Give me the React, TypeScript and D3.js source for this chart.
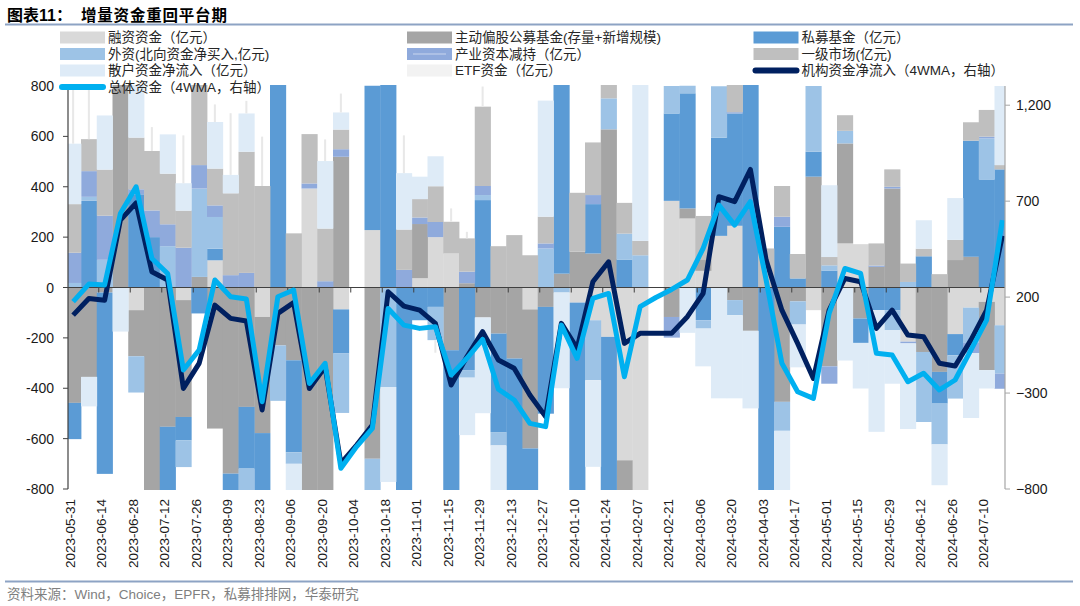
import React from 'react';
import * as d3 from 'd3';

const dates = [
  '2023-05-31','2023-06-07','2023-06-14','2023-06-21','2023-06-28','2023-07-05','2023-07-12','2023-07-19','2023-07-26','2023-08-02',
  '2023-08-09','2023-08-16','2023-08-23','2023-08-30','2023-09-06','2023-09-13','2023-09-20','2023-09-27','2023-10-04','2023-10-11',
  '2023-10-18','2023-10-25','2023-11-01','2023-11-08','2023-11-15','2023-11-22','2023-11-29','2023-12-06','2023-12-13','2023-12-20',
  '2023-12-27','2024-01-03','2024-01-10','2024-01-17','2024-01-24','2024-01-31','2024-02-07','2024-02-14','2024-02-21','2024-02-28',
  '2024-03-06','2024-03-13','2024-03-20','2024-03-27','2024-04-03','2024-04-10','2024-04-17','2024-04-24','2024-05-01','2024-05-08',
  '2024-05-15','2024-05-22','2024-05-29','2024-06-05','2024-06-12','2024-06-19','2024-06-26','2024-07-03','2024-07-10','2024-07-17',
];

// 融资资金
const rongzi = [0,0,0,0,-90,0,0,-50,0,108, 0,0,-117,0,0,393,0,-87,0,228, 0,0,37,200,135,0,0,0,0,-87, 0,0,-60,-130,-196,-686,-830,0,344,274, 66,205,245,0,0,0,0,-90,0,175, 172,0,0,-215,0,0,-185,-80,-57,-150];
// 主动偏股公募基金
const zhudong = [-458,-355,-20,900,-183,-810,-553,-464,42,-560, -739,-474,-461,-230,-289,-810,-810,519,0,-680, 0,0,215,0,-249,17,-119,-183,-282,-552, -77,55,142,135,628,-126,0,0,-117,40, 46,0,-50,-172,0,-454,-55,440,-313,397, -123,82,393,0,-256,-335,109,122,-271,0];
// 私募基金
const simu = [-144,344,-720,0,370,200,-260,-93,-103,46, -70,-245,-234,850,-365,0,0,-175,0,573, 850,-810,-130,-77,-562,-328,347,-391,-523,-166, -424,760,-750,196,-616,111,0,0,347,457, -130,390,446,850,-810,241,36,99,66,0, -97,-90,-90,0,124,-126,-84,461,429,469];
// 外资
const waizi = [18,16,110,0,-144,0,164,-106,351,126, 0,-90,0,-220,-46,0,0,-236,0,-130, -395,0,0,-132,0,-30,20,-53,0,0, 155,-20,0,-238,123,103,128,0,109,30, -33,204,-60,0,0,-115,-92,261,22,50, 0,0,-80,22,-278,-162,-172,-140,163,-192];
// 产业资本减持
const chanye = [120,102,175,0,20,106,87,158,93,46, 49,58,0,0,0,20,25,30,0,0, 0,70,26,60,0,46,36,0,0,0, 20,0,0,36,0,0,0,0,-82,0, 0,0,5,0,0,40,0,0,-69,0, 0,5,7,-7,0,0,0,-40,7,-60];
// 一级市场
const yiji = [193,127,183,0,205,236,201,147,360,146, 325,481,403,0,215,196,209,78,0,0, 0,160,73,142,126,132,315,164,208,128, 106,0,234,209,60,122,57,0,0,0, 172,0,110,0,155,122,97,0,33,62, 0,88,69,73,30,53,80,73,106,17];
// 散户资金净流入
const sanhu = [240,-117,215,-175,250,0,156,109,0,185, 73,152,0,0,-106,0,268,68,0,0, -377,224,89,119,0,-228,-380,-185,0,0, 461,-380,0,-344,0,0,650,0,0,-180, -150,-440,-330,-308,0,-243,-170,0,285,-290, -181,-483,-212,-340,113,-162,166,-258,-73,314];
// ETF资金
const etf = [215,200,0,0,0,95,0,190,0,70, 245,50,196,0,0,0,86,75,0,0, 0,150,0,-50,53,26,80,0,0,0, 0,0,0,0,0,0,0,0,0,0, 0,0,0,0,0,0,0,0,0,0, 0,0,0,0,0,0,0,0,0,0];
// 机构资金净流入（4WMA，右轴）
const jigou = [106,193,184,601,691,332,289,-276,-145,158, 89,75,-388,115,171,-276,-163,-666,-571,-467, 228,153,132,63,-258,-111,20,-128,-171,-310, -423,63,-67,280,384,-41,11,11,11,98, 219,723,697,865,393,132,-41,-224,132,297, 280,37,132,2,-7,-145,-159,-24,132,520];
// 总体资金（4WMA，右轴）
const zongti = [176,268,263,636,775,401,323,-180,-76,289, 202,190,-345,202,237,-250,-145,-692,-579,-484, 141,54,37,46,-206,-119,-20,-280,-336,-458, -475,54,-119,193,219,-215,150,198,240,289, 454,679,575,697,289,-145,-293,-328,115,349, 323,-93,-102,-241,-197,-284,-232,-76,80,601];

const leftTicks = [-800,-600,-400,-200,0,200,400,600,800];
const rightTicks = [-800,-300,200,700,1200];

const seriesKeys = ['rongzi','zhudong','simu','waizi','chanye','yiji','sanhu','etf'];
const seriesColors: Record<string,string> = {
  rongzi: '#D9D9D9', zhudong: '#A5A5A5', simu: '#5B9BD5', waizi: '#9DC3E6',
  chanye: '#8FAADC', yiji: '#BFBFBF', sanhu: '#DEEBF7', etf: '#F2F2F2',
};

const legendItems = [
  { label: '融资资金（亿元）', type: 'rect', color: '#D9D9D9', col: 0, row: 0 },
  { label: '主动偏股公募基金(存量+新增规模)', type: 'rect', color: '#A5A5A5', col: 1, row: 0 },
  { label: '私募基金（亿元）', type: 'rect', color: '#5B9BD5', col: 2, row: 0 },
  { label: '外资(北向资金净买入,亿元)', type: 'rect', color: '#9DC3E6', col: 0, row: 1 },
  { label: '产业资本减持（亿元）', type: 'rectline', color: '#8FAADC', col: 1, row: 1 },
  { label: '一级市场(亿元)', type: 'rect', color: '#BFBFBF', col: 2, row: 1 },
  { label: '散户资金净流入（亿元）', type: 'rect', color: '#DEEBF7', col: 0, row: 2 },
  { label: 'ETF资金（亿元）', type: 'rect', color: '#F2F2F2', col: 1, row: 2 },
  { label: '机构资金净流入（4WMA，右轴）', type: 'line', color: '#002060', col: 2, row: 2 },
  { label: '总体资金（4WMA，右轴）', type: 'line', color: '#00B0F0', col: 0, row: 3 },
];

export default function App() {
  const W = 1080, H = 606;
  const L = 68, R = 1005, T = 86, B = 489;
  const x = d3.scaleBand<string>().domain(dates).range([65.25, 1010.25]).padding(0);
  const bw = x.bandwidth();
  const yL = d3.scaleLinear().domain([-800, 800]).range([B, T]);
  const yR = d3.scaleLinear().domain([-800, 1300]).range([B, T]);

  const table = dates.map((d, i) => ({
    date: d, rongzi: rongzi[i], zhudong: zhudong[i], simu: simu[i], waizi: waizi[i],
    chanye: chanye[i], yiji: yiji[i], sanhu: sanhu[i], etf: etf[i],
  }));
  const stacked = d3.stack<any>().keys(seriesKeys).offset(d3.stackOffsetDiverging)(table);

  const cx = (i: number) => (x(dates[i]) as number) + bw / 2;
  const lineGen = d3.line<number>().x((_, i) => cx(i)).y((v) => yR(v));

  const axisFont = "'Liberation Sans', Arial, sans-serif";
  const cjkFont = "'Liberation Sans', Arial, 'Noto Sans CJK SC', sans-serif";

  const colX = [60, 407, 753.5];
  const rowY = [37.5, 54, 70.5, 87];

  const zeroTicks = d3.range(1, 30).map((k) => (x(dates[2 * k]) as number) + 2);

  return (
    <svg width={W} height={H} style={{ position: 'absolute', left: 0, top: 0, background: '#fff' }}>
      <defs>
        <clipPath id="plotClip">
          <rect x={L} y={T - 1} width={R - L} height={B - T + 2} />
        </clipPath>
      </defs>
      {/* title */}
      <text x={7} y={15} fontFamily={cjkFont} fontWeight="bold" fontSize={16} dominantBaseline="central" fill="#000">图表11：</text>
      <text x={81} y={15} fontFamily={cjkFont} fontWeight="bold" fontSize={15.5} letterSpacing={0.8} dominantBaseline="central" fill="#000">增量资金重回平台期</text>
      <line x1={5} x2={1073} y1={24.5} y2={24.5} stroke="#8DA3C4" strokeWidth={2} />

      {/* bars */}
      <g clipPath="url(#plotClip)">
        {stacked.map((layer) => (
          <g key={layer.key}>
            {layer.map((seg, i) => {
              const v0 = seg[0], v1 = seg[1];
              if (v0 === v1) return null;
              const yTop = yL(Math.max(v0, v1));
              const h = Math.abs(yL(v0) - yL(v1));
              if (layer.key === 'etf') {
                return <rect key={i} x={cx(i) - 1} y={yTop} width={2} height={h} fill="#E8E8E8" />;
              }
              return (
                <rect key={i} x={x(dates[i]) as number} y={yTop} width={bw + 0.4} height={h}
                  fill={seriesColors[layer.key]} />
              );
            })}
          </g>
        ))}
      </g>

      {/* zero axis */}
      <line x1={L} x2={R} y1={yL(0)} y2={yL(0)} stroke="#404040" strokeWidth={1.2} />
      {zeroTicks.map((t, i) => (
        <line key={i} x1={t} x2={t} y1={yL(0)} y2={yL(0) + 5} stroke="#404040" strokeWidth={1} />
      ))}

      {/* lines */}
      <g clipPath="url(#plotClip)">
        <path d={lineGen(jigou) || ''} fill="none" stroke="#002060" strokeWidth={5} strokeLinejoin="round" />
        <path d={lineGen(zongti) || ''} fill="none" stroke="#00B0F0" strokeWidth={5} strokeLinejoin="round" />
      </g>

      {/* left axis */}
      <line x1={L} x2={L} y1={T} y2={B} stroke="#404040" strokeWidth={1.2} />
      {leftTicks.map((t) => (
        <g key={t}>
          <line x1={L - 5} x2={L} y1={yL(t)} y2={yL(t)} stroke="#404040" strokeWidth={1} />
          <text x={54} y={yL(t)} textAnchor="end" dominantBaseline="central" fontFamily={axisFont} fontSize={14} fill="#1a1a1a">{t}</text>
        </g>
      ))}

      {/* right axis */}
      <line x1={R} x2={R} y1={T} y2={B} stroke="#A6A6A6" strokeWidth={1.2} />
      {rightTicks.map((t) => (
        <g key={t}>
          <line x1={R} x2={R + 5} y1={yR(t)} y2={yR(t)} stroke="#A6A6A6" strokeWidth={1} />
          <text x={1016} y={yR(t)} textAnchor="start" dominantBaseline="central" fontFamily={axisFont} fontSize={14} fill="#1a1a1a">{d3.format(',')(t)}</text>
        </g>
      ))}

      {/* x labels */}
      {dates.map((d, i) => (i % 2 === 0 ? (
        <text key={d} transform={`translate(${cx(i) - 3},499) rotate(-90)`} textAnchor="end" dominantBaseline="central"
          fontFamily={axisFont} fontSize={13.5} fill="#1a1a1a">{d}</text>
      ) : null))}

      {/* legend */}
      {legendItems.map((it) => {
        const lx = colX[it.col], ly = rowY[it.row];
        return (
          <g key={it.label}>
            {it.type === 'line' ? (
              <line x1={lx + 2} x2={lx + 43} y1={ly} y2={ly} stroke={it.color} strokeWidth={6} strokeLinecap="round" />
            ) : (
              <rect x={lx} y={ly - 6} width={45} height={12} fill={it.color} />
            )}
            {it.type === 'rectline' ? (
              <line x1={lx + 6} x2={lx + 39} y1={ly} y2={ly} stroke="#C9D6EE" strokeWidth={1.2} />
            ) : null}
            <text x={lx + 48} y={ly} dominantBaseline="central" fontFamily={cjkFont} fontSize={13.5} fill="#262626">{it.label}</text>
          </g>
        );
      })}

      {/* footer */}
      <line x1={5} x2={1073} y1={581.5} y2={581.5} stroke="#8DA3C4" strokeWidth={2} />
      <text x={7} y={594} dominantBaseline="central" fontFamily={cjkFont} fontSize={13.5} fill="#7F7F7F">资料来源：Wind，Choice，EPFR，私募排排网，华泰研究</text>
    </svg>
  );
}
